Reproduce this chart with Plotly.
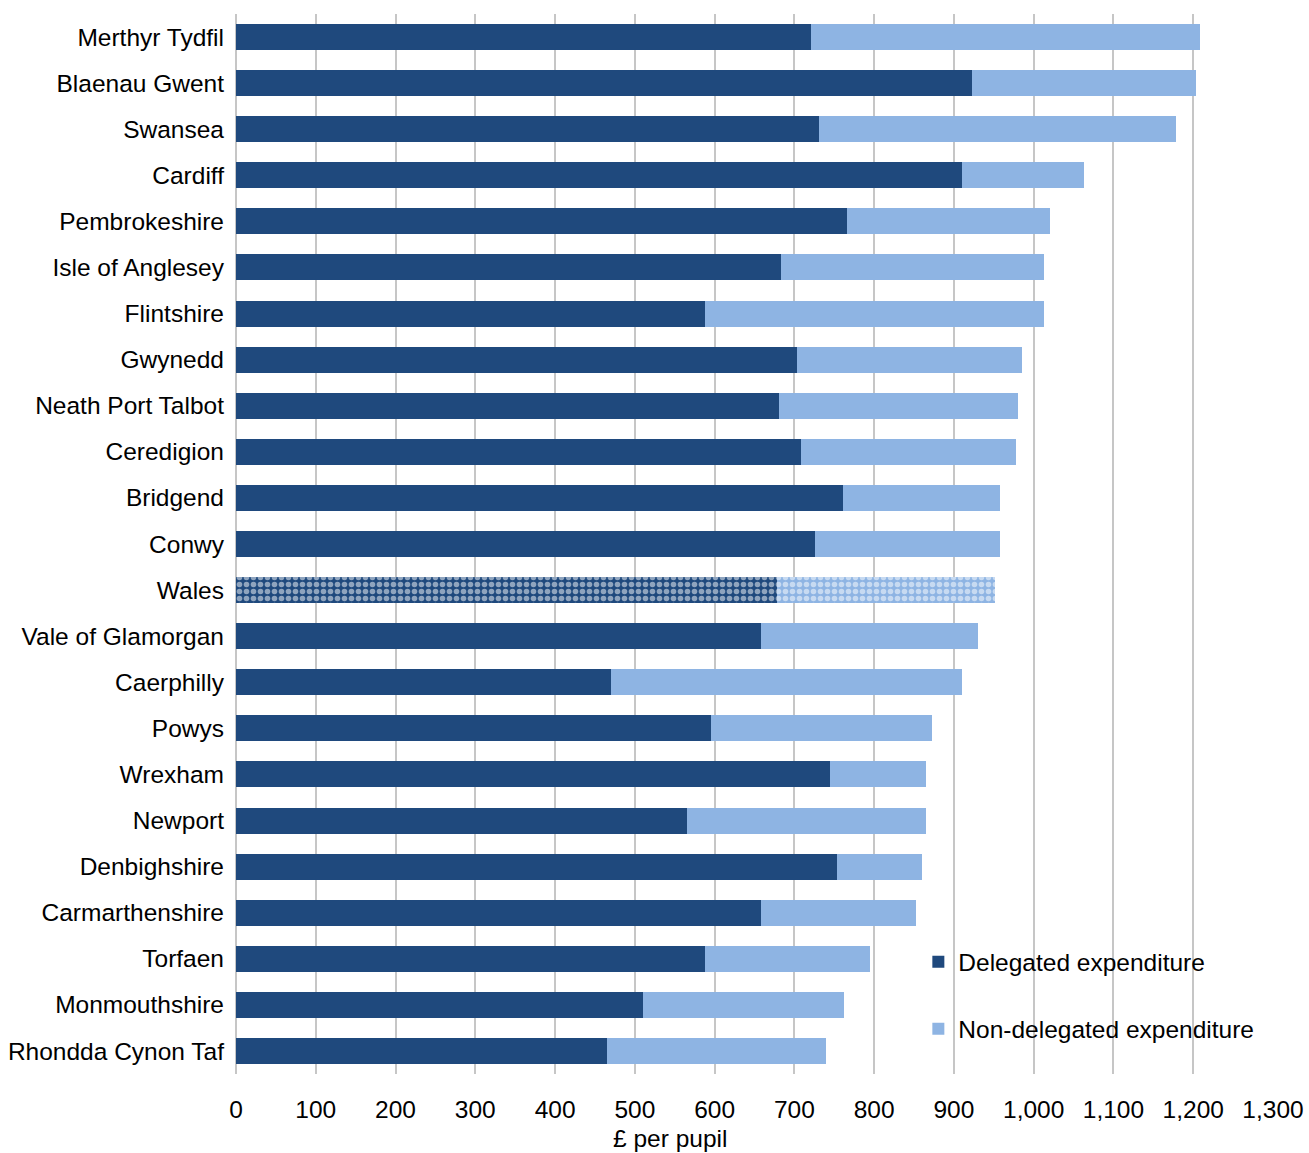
import plotly.graph_objects as go

categories = ["Merthyr Tydfil", "Blaenau Gwent", "Swansea", "Cardiff", "Pembrokeshire",
              "Isle of Anglesey", "Flintshire", "Gwynedd", "Neath Port Talbot", "Ceredigion",
              "Bridgend", "Conwy", "Wales", "Vale of Glamorgan", "Caerphilly", "Powys",
              "Wrexham", "Newport", "Denbighshire", "Carmarthenshire", "Torfaen",
              "Monmouthshire", "Rhondda Cynon Taf"]
delegated = [721, 923, 731, 910, 766, 683, 588, 703, 681, 708, 761, 726, 678, 658, 470,
             595, 745, 565, 753, 658, 588, 510, 465]
total = [1208, 1203, 1178, 1063, 1020, 1013, 1013, 985, 980, 978, 958, 958, 951, 930, 910,
         873, 865, 865, 860, 852, 795, 762, 740]
non_delegated = [t - d for t, d in zip(total, delegated)]
x_ticks = list(range(0, 1301, 100))
x_ticktext = [f"{v:,}" for v in x_ticks]
x_title = "£ per pupil"

DARK = "#1F497D"
LIGHT = "#8EB4E3"
shapes_pat = ["." if c == "Wales" else "" for c in categories]

fig = go.Figure()
fig.add_trace(go.Bar(
    y=categories, x=delegated, orientation="h", name="Delegated expenditure",
    legendgroup="a",
    marker=dict(color=DARK, line=dict(width=0),
                pattern=dict(shape=shapes_pat, fillmode="overlay", fgcolor="white",
                             size=7, solidity=0.5)),
))
fig.add_trace(go.Bar(
    y=categories, x=non_delegated, orientation="h", name="Non-delegated expenditure",
    legendgroup="b",
    marker=dict(color=LIGHT, line=dict(width=0),
                pattern=dict(shape=shapes_pat, fillmode="overlay", fgcolor="white",
                             size=7, solidity=0.5)),
))

FS = 24.5
font = dict(family="Arial, Liberation Sans, sans-serif", size=FS, color="#000000")
fig.update_layout(
    barmode="stack", bargap=0.436,
    width=1309, height=1153,
    margin=dict(l=236, r=36, t=14, b=79, autoexpand=False),
    paper_bgcolor="white", plot_bgcolor="white",
    font=font,
    legend=dict(x=0.658, y=0.127, xanchor="left", yanchor="top",
                traceorder="grouped", tracegroupgap=32,
                font=font, bgcolor="rgba(0,0,0,0)"),
    xaxis=dict(range=[0, 1300], tickvals=x_ticks, ticktext=x_ticktext,
               showgrid=True, gridcolor="#C6C6C6", gridwidth=1.5,
               zeroline=True, zerolinecolor="#C6C6C6", zerolinewidth=1.5,
               showline=False, ticks="", ticklabelstandoff=18,
               automargin=False),
    yaxis=dict(autorange="reversed", showgrid=False, ticks="", ticklabelstandoff=11,
               automargin=False),
    annotations=[dict(text=x_title, xref="paper", yref="paper",
                      x=(670 - 236) / 1037, y=(1074 - 1138) / 1060,
                      xanchor="center", yanchor="middle", showarrow=False, font=font)],
)
fig.write_html("out.html")
